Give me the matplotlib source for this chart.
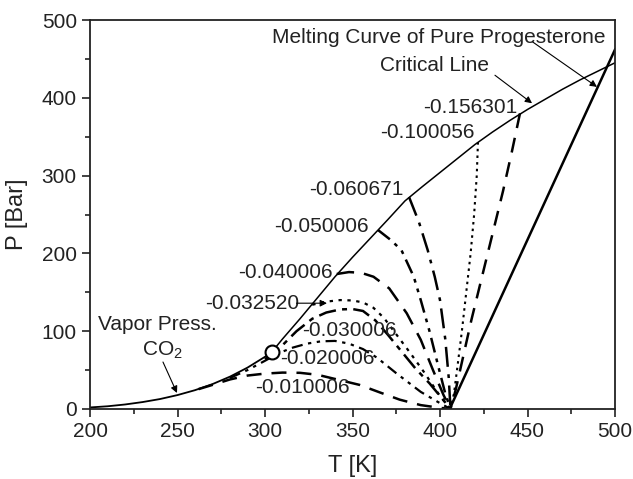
import matplotlib
matplotlib.use("Agg")
import matplotlib.pyplot as plt
from matplotlib.ticker import MultipleLocator

plt.rcParams['font.family'] = ['Liberation Sans', 'DejaVu Sans']
plt.rcParams['mathtext.fontset'] = 'custom'
plt.rcParams['mathtext.rm'] = 'Liberation Sans'
plt.rcParams['mathtext.it'] = 'Liberation Sans'

# CO2 vapor pressure curve
T_vap = [200, 210, 220, 230, 240, 250, 260, 270, 280, 290, 300, 304.1]
P_vap = [2.0, 3.5, 5.8, 8.9, 12.8, 17.9, 24.2, 32.0, 41.6, 53.2, 67.1, 73.8]

# Critical line
T_crit = [304.1, 310, 320, 330, 340, 350, 360, 370, 380, 390, 400, 410, 420,
          430, 440, 450, 460, 470, 480, 490, 500]
P_crit = [73.8, 90, 116, 143, 170, 195, 219, 243, 267.5, 286, 304, 322, 340,
          356, 371, 385, 398, 411, 423, 434, 445]

# Melting curve of pure progesterone
T_melt = [405.5, 500]
P_melt = [0, 462]

# Isopleths
T_m010 = [262, 270, 280, 290, 300, 310, 320, 330, 343, 354, 366, 377, 389, 400, 406]
P_m010 = [25.5, 31, 38, 43, 45.5, 46.8, 46.5, 44, 37, 31, 21, 12, 5, 1.5, 0]

T_m020 = [280, 290, 300, 308, 316, 324, 332, 340, 348, 356, 364, 375, 389, 400, 406]
P_m020 = [40, 50, 62, 72, 79, 84, 87, 87.5, 84, 77, 66, 46, 22, 7.5, 0]

T_m030 = [300, 310, 318, 327, 335, 343, 350, 356, 363, 370, 378, 386, 394, 401, 406]
P_m030 = [64, 82, 100, 116, 124, 128, 128.5, 126, 114, 96, 74, 52, 33, 14, 0]

T_m0325 = [327, 335, 343, 350, 356, 362, 368, 375, 383, 391, 399, 406]
P_m0325 = [134, 138, 140, 139.5, 137, 130, 117, 96, 72, 47, 20, 0]

T_m040 = [341, 348, 355, 362, 371, 381, 389, 396, 402, 406]
P_m040 = [173.5, 176, 175, 170, 155, 123, 89, 50, 18, 0]

T_m050 = [364.6, 372, 378, 385, 389, 394, 399, 403, 406]
P_m050 = [230, 217, 204, 170, 140, 100, 55, 20, 0]

T_m061 = [382.3, 388, 393, 397, 400, 403, 405, 406]
P_m061 = [272.5, 240, 204, 170, 140, 90, 40, 0]

T_m100 = [421.7, 421, 419.5, 417.5, 415, 412.5, 410, 408, 406]
P_m100 = [343, 300, 250, 200, 150, 100, 55, 20, 0]

T_m156 = [445.7, 441, 436, 430, 424, 418, 413, 409, 406]
P_m156 = [380, 330, 280, 225, 170, 115, 65, 25, 0]

fig = plt.figure(figsize=(6.33, 4.79), dpi=100)
ax = fig.add_axes([90/633, 1-409/479, 525/633, 389/479])

k = 'black'
ax.plot(T_vap, P_vap, color=k, lw=1.3)
ax.plot(T_crit, P_crit, color=k, lw=1.1)
ax.plot(T_melt, P_melt, color=k, lw=1.8)

ax.plot(T_m010, P_m010, color=k, lw=1.8, dashes=(6, 4))
ax.plot(T_m020, P_m020, color=k, lw=1.6, dashes=(5, 2.5, 1.5, 2.5, 1.5, 2.5))
ax.plot(T_m030, P_m030, color=k, lw=1.8, dashes=(7, 2.5, 2, 2.5))
ax.plot(T_m0325, P_m0325, color=k, lw=1.6, dashes=(1.5, 2.5))
ax.plot(T_m040, P_m040, color=k, lw=1.8, dashes=(7, 4))
ax.plot(T_m050, P_m050, color=k, lw=1.8, dashes=(6, 2.5, 1.5, 2.5, 1.5, 2.5))
ax.plot(T_m061, P_m061, color=k, lw=1.8, dashes=(8, 3, 1.5, 3))
ax.plot(T_m100, P_m100, color=k, lw=1.5, dashes=(1.2, 2))
ax.plot(T_m156, P_m156, color=k, lw=1.8, dashes=(6, 4))

ax.plot([T_vap[-1]], [P_vap[-1]], 'o', ms=10, mfc='white', mec=k, mew=1.5, zorder=5)

fs = 15
lbls = [("-0.156301", 444, 388, 'right'),
        ("-0.100056", 420, 355, 'right'),
        ("-0.060671", 379.4, 281.5, 'right'),
        ("-0.050006", 359.4, 234, 'right'),
        ("-0.040006", 338.9, 176, 'right'),
        ("-0.032520", 265.7, 136, 'left'),
        ("-0.030006", 321, 101.5, 'left'),
        ("-0.020006", 308.6, 65.5, 'left'),
        ("-0.010006", 294.3, 28, 'left')]
for s, x, y, ha in lbls:
    ax.text(x, y, s, fontsize=fs, ha=ha, va='center', color='#222222')

ax.text(204.6, 108, "Vapor Press.", fontsize=fs, ha='left', va='center', color='#222222')
ax.text(229.7, 76, "CO$_2$", fontsize=fs, ha='left', va='center', color='#222222')
ax.text(365.7, 442, "Critical Line", fontsize=fs, ha='left', va='center', color='#222222')
ax.text(304, 477, "Melting Curve of Pure Progesterone", fontsize=fs, ha='left',
        va='center', color='#222222')

ap = dict(arrowstyle='-|>', color=k, lw=0.8, mutation_scale=10, shrinkA=0, shrinkB=0)
ax.annotate("", xy=(335.4, 136), xytext=(318, 136), arrowprops=ap)
ax.annotate("", xy=(249.7, 20.6), xytext=(241.7, 60.4), arrowprops=ap)
ax.annotate("", xy=(452.6, 393), xytext=(431.4, 429), arrowprops=ap)
ax.annotate("", xy=(489.7, 414), xytext=(453, 471.7), arrowprops=ap)

ax.set_xlim(200, 500)
ax.set_ylim(0, 500)
ax.xaxis.set_major_locator(MultipleLocator(50))
ax.xaxis.set_minor_locator(MultipleLocator(25))
ax.yaxis.set_major_locator(MultipleLocator(100))
ax.yaxis.set_minor_locator(MultipleLocator(50))
ax.tick_params(which='both', direction='out', top=False, right=False,
               labelsize=fs, colors='#222222', width=1.2)
ax.tick_params(which='major', length=6)
ax.tick_params(which='minor', length=3.5)
for sp in ax.spines.values():
    sp.set_linewidth(1.3)
    sp.set_color('#222222')

ax.set_xlabel("T [K]", fontsize=17, color='#222222', labelpad=10)
ax.set_ylabel("P [Bar]", fontsize=17, color='#222222', labelpad=10)

fig.savefig("out.png", dpi=100)
